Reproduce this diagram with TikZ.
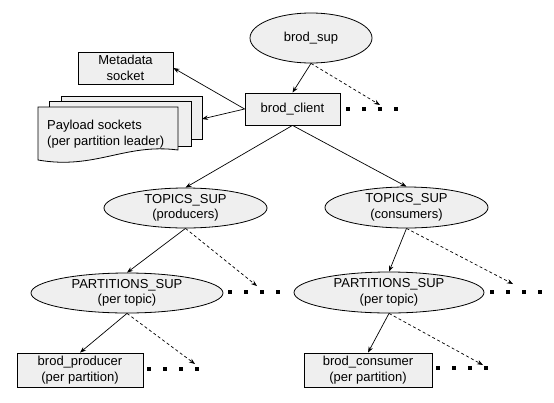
\documentclass[tikz,border=0pt]{standalone}
\usepackage{fontspec}
\setmainfont{Liberation Sans}
\usetikzlibrary{shapes.geometric,arrows.meta}
\definecolor{boxfill}{RGB}{239,239,239}
\tikzset{
  every node/.style={font=\fontsize{13}{15.5}\selectfont, align=center, inner sep=0pt},
  sup/.style={ellipse, draw, fill=boxfill, line width=0.8pt},
  wbox/.style={rectangle, draw, fill=boxfill, line width=0.8pt},
  link/.style={draw, line width=0.7pt, -{Stealth[length=6pt,width=4.5pt]}},
  dlink/.style={link, dash pattern=on 3pt off 2.5pt},
  more/.style={draw, line width=3.5pt, dash pattern=on 3.5pt off 12.5pt},
}
\begin{document}
\begin{tikzpicture}[x=1pt,y=-1pt]
\useasboundingbox (0,0) rectangle (554,402);
% nodes
\node[sup, minimum width=122pt, minimum height=50pt] (sup) at (311,38) {brod\_sup};
\node[wbox, minimum width=95pt, minimum height=32pt] (client) at (292.5,109) {brod\_client};
\node[wbox, minimum width=95pt, minimum height=32pt] (meta) at (125.5,68) {Metadata\\socket};
% payload sockets stack
\draw[fill=boxfill, line width=0.8pt] (61,96) rectangle (202,139);
\draw[fill=boxfill, line width=0.8pt] (49,101) rectangle (191,146);
\draw[fill=boxfill, line width=0.8pt] (38,107) -- (178,107) -- (178,150)
  .. controls (125,143) and (95,170) .. (38,160) -- cycle;
\node[anchor=west, align=left] (payload) at (47,134) {Payload sockets\\(per partition leader)};
\coordinate (payin) at (202,119);
\node[sup, minimum width=163pt, minimum height=40pt] (tprod) at (185.5,208) {TOPICS\_SUP\\(producers)};
\node[sup, minimum width=163pt, minimum height=41pt] (tcons) at (406.5,207.5) {TOPICS\_SUP\\(consumers)};
\node[sup, minimum width=192pt, minimum height=40pt] (pprod) at (127,293) {PARTITIONS\_SUP\\(per topic)};
\node[sup, minimum width=190pt, minimum height=41pt] (pcons) at (389,292.5) {PARTITIONS\_SUP\\(per topic)};
\node[wbox, minimum width=126pt, minimum height=34pt] (prod) at (80,370) {brod\_producer\\(per partition)};
\node[wbox, minimum width=128pt, minimum height=34pt] (cons) at (368,370) {brod\_consumer\\(per partition)};
% dot rows
\coordinate (d1a) at (346,109); \coordinate (d1b) at (397.5,109);
\coordinate (d2a) at (228,292); \coordinate (d2b) at (279.5,292);
\coordinate (d3a) at (147,369); \coordinate (d3b) at (198.5,369);
\coordinate (d4a) at (490,292); \coordinate (d4b) at (541.5,292);
\coordinate (d5a) at (436,368); \coordinate (d5b) at (487.5,368);
\draw[more] (d1a) -- (d1b);
\draw[more] (d2a) -- (d2b);
\draw[more] (d3a) -- (d3b);
\draw[more] (d4a) -- (d4b);
\draw[more] (d5a) -- (d5b);
% dashed targets
\coordinate (t1) at (380,105);
\coordinate (t2) at (257,286);
\coordinate (t3) at (195,364);
\coordinate (t4) at (513,284);
\coordinate (t5) at (483,365);
% connectors
\draw[link] (sup.south) -- (client.north);
\draw[dlink] (sup.south) -- (t1);
\draw[link] (client.west) -- (meta.east);
\draw[link] (client.west) -- (payin);
\draw[link] (client.south) -- (tprod.north);
\draw[link] (client.south) -- (tcons.north);
\draw[link] (tprod.south) -- (pprod.north);
\draw[dlink] (tprod.south) -- (t2);
\draw[link] (tcons.south) -- (pcons.north);
\draw[dlink] (tcons.south) -- (t4);
\draw[link] (pprod.south) -- (prod.north);
\draw[dlink] (pprod.south) -- (t3);
\draw[link] (pcons.south) -- (cons.north);
\draw[dlink] (pcons.south) -- (t5);
\end{tikzpicture}
\end{document}
